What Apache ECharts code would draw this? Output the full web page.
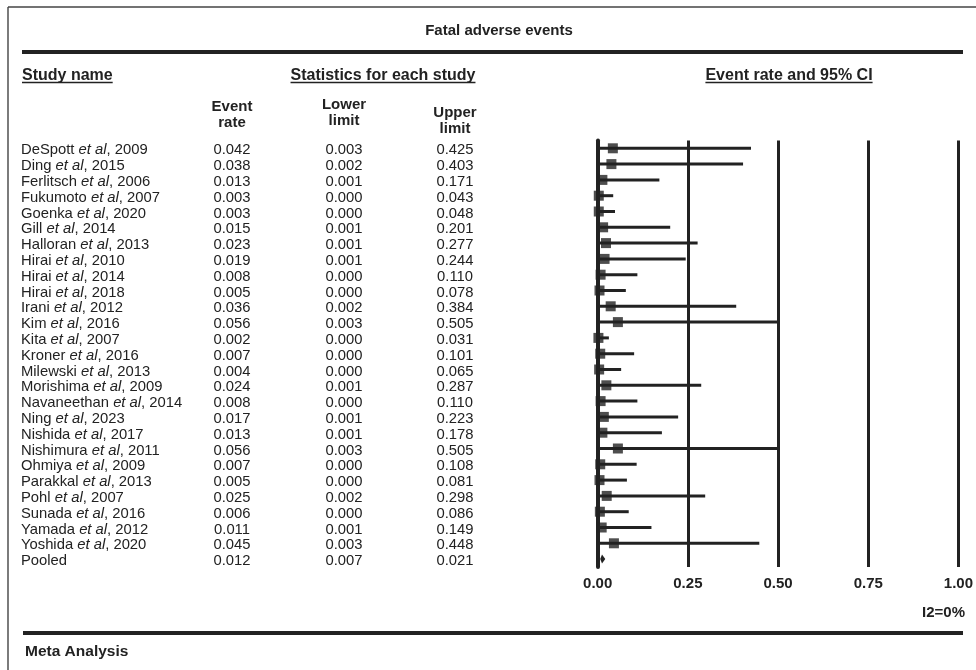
<!DOCTYPE html>
<html>
<head>
<meta charset="utf-8">
<script src="https://cdn.jsdelivr.net/npm/echarts@6/dist/echarts.min.js"></script>
<style>
html,body{margin:0;padding:0;background:#fff;}
#chart{width:976px;height:670px;}
</style>
</head>
<body>
<div id="chart"></div>
<script>
// ---- data ----
const studyNames = ["DeSpott","Ding","Ferlitsch","Fukumoto","Goenka","Gill","Halloran","Hirai","Hirai","Hirai","Irani","Kim","Kita","Kroner","Milewski","Morishima","Navaneethan","Ning","Nishida","Nishimura","Ohmiya","Parakkal","Pohl","Sunada","Yamada","Yoshida","Pooled"];
const studyYears = [2009,2015,2006,2007,2020,2014,2013,2010,2014,2018,2012,2016,2007,2016,2013,2009,2014,2023,2017,2011,2009,2013,2007,2016,2012,2020,null];
const eventRate = [0.042,0.038,0.013,0.003,0.003,0.015,0.023,0.019,0.008,0.005,0.036,0.056,0.002,0.007,0.004,0.024,0.008,0.017,0.013,0.056,0.007,0.005,0.025,0.006,0.011,0.045,0.012];
const lowerLimit = [0.003,0.002,0.001,0.000,0.000,0.001,0.001,0.001,0.000,0.000,0.002,0.003,0.000,0.000,0.000,0.001,0.000,0.001,0.001,0.003,0.000,0.000,0.002,0.000,0.001,0.003,0.007];
const upperLimit = [0.425,0.403,0.171,0.043,0.048,0.201,0.277,0.244,0.110,0.078,0.384,0.505,0.031,0.101,0.065,0.287,0.110,0.223,0.178,0.505,0.108,0.081,0.298,0.086,0.149,0.448,0.021];
const xTicks = [0, 0.25, 0.5, 0.75, 1.0];
const pooledIndex = studyNames.indexOf("Pooled");

// ---- layout / style ----
const FONT = "'Liberation Sans', Arial, Helvetica, sans-serif";
const INK = '#222';
const gridLeft = 597.7, gridRight = 976 - 962, gridTop = 140.4, gridHeight = 426.6;
const colName = 21, colRate = 232, colLower = 344, colUpper = 455;
const rowIds = studyNames.map((_, i) => i);

const mctx = document.createElement('canvas').getContext('2d');
function textW(t, font) { mctx.font = font; return mctx.measureText(t).width; }

const hdrFont = 'bold 16px ' + FONT;
function underlinedHeader(text, x, y, align) {
  const w = textW(text, hdrFont);
  const x1 = align === 'center' ? x - w / 2 : x;
  return [
    {type:'text', x:x, y:y, style:{text:text, font:hdrFont, fill:INK, align:align, verticalAlign:'middle'}},
    {type:'line', shape:{x1:x1, y1:y+6.5, x2:x1+w, y2:y+6.5}, style:{stroke:INK, lineWidth:1.4}}
  ];
}
function plainText(text, x, y, align, font) {
  return {type:'text', x:x, y:y, style:{text:text, font:font, fill:INK, align:align, verticalAlign:'middle'}};
}

const colHdrFont = 'bold 15px ' + FONT;
const graphics = [
  {type:'line', shape:{x1:8, y1:7, x2:976, y2:7}, style:{stroke:'#444', lineWidth:1.4}},
  {type:'line', shape:{x1:8, y1:7, x2:8, y2:670}, style:{stroke:'#444', lineWidth:1.4}},
  {type:'line', shape:{x1:22, y1:52, x2:963, y2:52}, style:{stroke:INK, lineWidth:4}},
  {type:'line', shape:{x1:23, y1:633, x2:963, y2:633}, style:{stroke:INK, lineWidth:4}},
  plainText('Fatal adverse events', 499, 31, 'center', 'bold 15px ' + FONT),
  ...underlinedHeader('Study name', 22, 76, 'left'),
  ...underlinedHeader('Statistics for each study', 383, 76, 'center'),
  ...underlinedHeader('Event rate and 95% CI', 789, 76, 'center'),
  plainText('Event', colRate, 107, 'center', colHdrFont),
  plainText('rate', colRate, 123, 'center', colHdrFont),
  plainText('Lower', colLower, 105, 'center', colHdrFont),
  plainText('limit', colLower, 121, 'center', colHdrFont),
  plainText('Upper', colUpper, 113, 'center', colHdrFont),
  plainText('limit', colUpper, 129, 'center', colHdrFont),
  plainText('I2=0%', 965, 612.7, 'right', 'bold 15px ' + FONT),
  plainText('Meta Analysis', 25, 652, 'left', 'bold 15.5px ' + FONT)
];

const rowFont = 14.8;
const labelRich = {
  n:{fontFamily:FONT, fontSize:rowFont, color:INK, padding:[4,0,0,0]},
  i:{fontFamily:FONT, fontSize:rowFont, color:INK, fontStyle:'italic', padding:[4,0,0,0]}
};
function labelAxis(data, offsetX, align, formatter) {
  return {
    type:'category', data:data, inverse:true, position:'left',
    offset: gridLeft - offsetX,
    axisLine:{show:false}, axisTick:{show:false}, splitLine:{show:false},
    axisLabel:{
      interval:0, margin:0, align:align, color:INK, fontFamily:FONT, fontSize:rowFont,
      formatter:formatter, rich:labelRich
    }
  };
}

const option = {
  animation:false,
  backgroundColor:'#fff',
  grid:{left:gridLeft, right:gridRight, top:gridTop, height:gridHeight, containLabel:false},
  xAxis:{
    type:'value', min:0, max:1, interval:0.25,
    axisLine:{show:false}, axisTick:{show:false},
    splitLine:{show:true, lineStyle:{color:INK, width:3}},
    axisLabel:{
      margin:9, color:INK, fontFamily:FONT, fontSize:15, fontWeight:'bold',
      formatter:v => v.toFixed(2), showMinLabel:true, showMaxLabel:true
    }
  },
  yAxis:[
    {
      type:'category', data:rowIds, inverse:true,
      axisLine:{show:true, lineStyle:{color:INK, width:4}},
      axisTick:{show:false}, axisLabel:{show:false}, splitLine:{show:false}
    },
    labelAxis(rowIds, colName, 'left', (v) => {
      const i = +v;
      if (studyYears[i] == null) return '{n|' + studyNames[i] + '}';
      return '{n|' + studyNames[i] + ' }{i|et al}{n|, ' + studyYears[i] + '}';
    }),
    labelAxis(rowIds, colRate, 'center', (v) => '{n|' + eventRate[+v].toFixed(3) + '}'),
    labelAxis(rowIds, colLower, 'center', (v) => '{n|' + lowerLimit[+v].toFixed(3) + '}'),
    labelAxis(rowIds, colUpper, 'center', (v) => '{n|' + upperLimit[+v].toFixed(3) + '}')
  ],
  graphic: graphics,
  series:[
    {
      type:'custom', yAxisIndex:0, z:2,
      data: rowIds.filter(i => i !== pooledIndex).map(i => [lowerLimit[i], upperLimit[i], i]),
      renderItem:(params, api) => {
        const p1 = api.coord([api.value(0), api.value(2)]);
        const p2 = api.coord([api.value(1), api.value(2)]);
        return {type:'line', shape:{x1:p1[0], y1:p1[1], x2:p2[0], y2:p2[1]}, style:{stroke:INK, lineWidth:3}};
      }
    },
    {
      type:'scatter', yAxisIndex:0, z:3, symbol:'rect', symbolSize:10,
      itemStyle:{color:INK},
      data: rowIds.filter(i => i !== pooledIndex).map(i => [eventRate[i], i])
    },
    {
      type:'custom', yAxisIndex:0, z:3,
      data:[[lowerLimit[pooledIndex], eventRate[pooledIndex], upperLimit[pooledIndex], pooledIndex]],
      renderItem:(params, api) => {
        const row = api.value(3);
        const a = api.coord([api.value(0), row]);
        const m = api.coord([api.value(1), row]);
        const b = api.coord([api.value(2), row]);
        return {type:'polygon', shape:{points:[[a[0], a[1]], [m[0], m[1]-4.5], [b[0], b[1]], [m[0], m[1]+4.5]]}, style:{fill:INK}};
      }
    }
  ]
};

const chart = echarts.init(document.getElementById('chart'), null, {renderer:'canvas'});
chart.setOption(option);
</script>
</body>
</html>
